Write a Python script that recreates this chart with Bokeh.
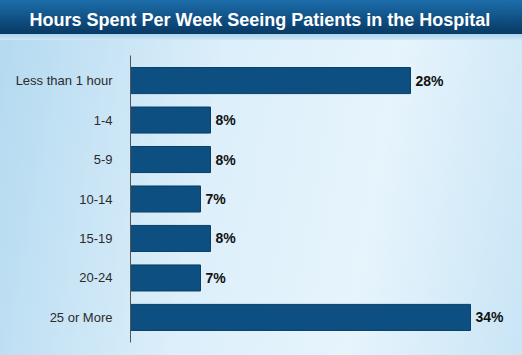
from bokeh.plotting import figure
from bokeh.models import FactorRange, Range1d, ColumnDataSource, LabelSet, Title
from bokeh.core.properties import value
from bokeh.embed import file_html
from bokeh.resources import INLINE

title_text = "Hours Spent Per Week Seeing Patients in the Hospital"
categories = ["Less than 1 hour", "1-4", "5-9", "10-14", "15-19", "20-24", "25 or More"]
percent = [28, 8, 8, 7, 8, 7, 34]
value_labels = ["28%", "8%", "8%", "7%", "8%", "7%", "34%"]

src = ColumnDataSource(dict(cat=categories, pct=percent, lbl=value_labels))

p = figure(
    width=522, height=355,
    y_range=FactorRange(factors=list(reversed(categories)),
                        range_padding=0.135, range_padding_units="absolute"),
    x_range=Range1d(0, 39.2),
    output_backend="svg", toolbar_location=None,
    min_border_left=130, min_border_right=0, min_border_top=0, min_border_bottom=13,
)
p.styles = {
    "background-image": (
        "linear-gradient(to bottom, #1d6eab 0px, #0c4575 26px, #0a3a62 34px, "
        "#a9d3ee 34px, #cfe8f7 40px, rgba(0,0,0,0) 40px), "
        "linear-gradient(100deg, #b3d9f0 0%, #dcEFFA 40%, #e6f4fc 70%, #c9e5f6 100%)"
    )
}
p.border_fill_alpha = 0
p.background_fill_alpha = 0
p.outline_line_color = None
p.grid.visible = False
p.xaxis.visible = False

# main title (outermost panel)
p.title.text = title_text
p.title.align = "left"
p.title.offset = -101
p.title.standoff = 14
p.title.text_font = "Liberation Sans"
p.title.text_font_style = "bold"
p.title.text_font_size = "18px"
p.title.text_color = "white"

# blank spacer panel between the title and the plot area
p.add_layout(Title(text=" ", text_font_size="1px", standoff=16), "above")

ax = p.yaxis[0]
ax.axis_line_color = "#555555"
ax.axis_line_width = 1
ax.major_tick_line_color = None
ax.minor_tick_line_color = None
ax.major_label_standoff = 12
ax.major_label_text_font = "Liberation Sans"
ax.major_label_text_font_size = "13px"
ax.major_label_text_color = "#2b2b2b"

p.hbar(y="cat", right="pct", left=0, height=0.66, source=src,
       fill_color="#0c4f80", line_color="#0a3f66", line_width=1)

labels = LabelSet(x="pct", y="cat", text="lbl", source=src, x_offset=5,
                  text_baseline="middle", text_align="left",
                  text_font=value("Liberation Sans"), text_font_style="bold",
                  text_font_size="14px", text_color="#111111")
p.add_layout(labels)

open("out.html", "w").write(file_html(p, INLINE))
